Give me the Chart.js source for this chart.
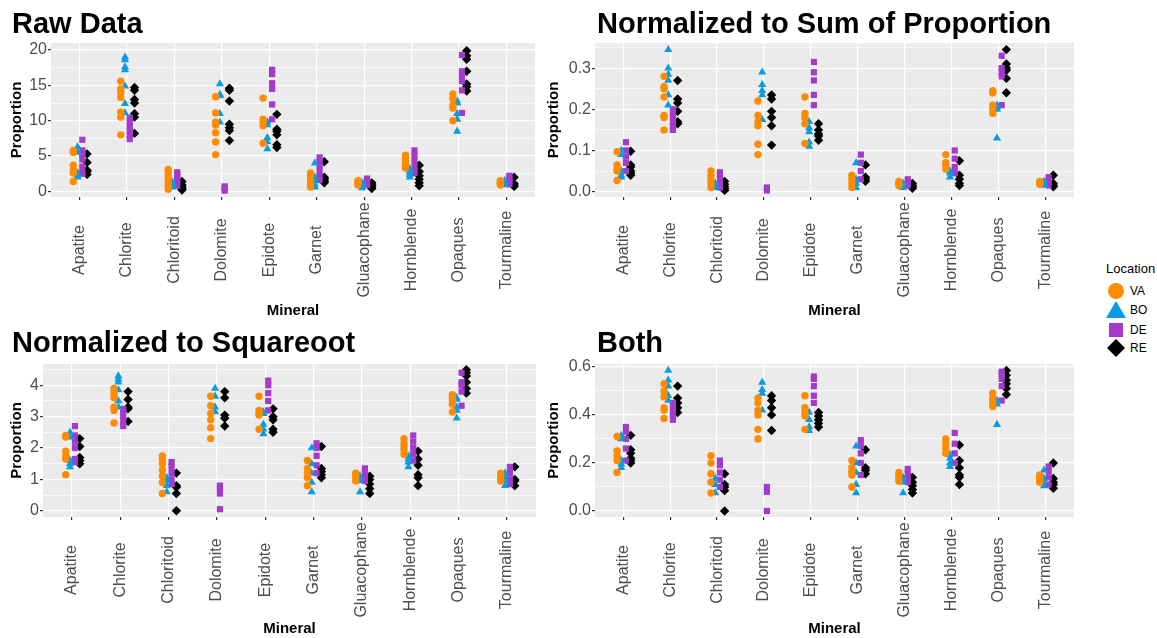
<!DOCTYPE html>
<html>
<head>
<meta charset="utf-8">
<script src="https://cdn.jsdelivr.net/npm/chart.js@4.4.0/dist/chart.umd.min.js"></script>
<style>
  body { margin: 0; background: #fff; font-family: "Liberation Sans", Arial, sans-serif; }
  #page { position: relative; width: 1157px; height: 638px; overflow: hidden; }
  .panel { position: absolute; }
  .lg { position: absolute; font-size: 12px; color: #000; line-height: 14px; }
</style>
</head>
<body>
<div id="page">
  <canvas class="panel" id="c1" width="560" height="320" style="left:0;top:0"></canvas>
  <canvas class="panel" id="c2" width="545" height="320" style="left:540px;top:0"></canvas>
  <canvas class="panel" id="c3" width="560" height="318" style="left:0;top:320px"></canvas>
  <canvas class="panel" id="c4" width="545" height="318" style="left:540px;top:320px"></canvas>

  <div class="lg" style="left:1106px;top:262px;font-size:13px">Location</div>
  <svg style="position:absolute;left:1104px;top:280px" width="26" height="80">
    <circle cx="12" cy="11" r="8" fill="#FF8C00"/>
    <polygon points="12,21 22,38 2,38" fill="#0A9BE3"/>
    <rect x="5" y="43" width="14" height="14" fill="#A23BCB"/>
    <polygon points="12,59 21,68 12,77 3,68" fill="#000"/>
  </svg>
  <div class="lg" style="left:1130px;top:284px">VA</div>
  <div class="lg" style="left:1130px;top:303px">BO</div>
  <div class="lg" style="left:1130px;top:323px">DE</div>
  <div class="lg" style="left:1130px;top:341px">RE</div>
</div>
<script>
const minerals = ['Apatite', 'Chlorite', 'Chloritoid', 'Dolomite', 'Epidote', 'Garnet', 'Gluacophane', 'Hornblende', 'Opaques', 'Tourmaline'];
const locations = ['VA', 'BO', 'DE', 'RE'];

// Raw Data
const rawVA = [[1.4, 2.6, 3.0, 3.7, 5.5, 5.8], [8.0, 10.5, 11.2, 13.3, 14.0, 14.5, 15.6], [0.3, 0.8, 1.3, 1.8, 2.3, 2.8, 3.1], [5.2, 7.0, 8.3, 9.4, 9.8, 11.1, 13.4], [6.8, 9.3, 9.8, 10.2, 13.2], [0.6, 1.0, 1.4, 1.8, 2.2, 2.6], [0.9, 1.1, 1.3, 1.5], [3.3, 3.7, 4.0, 4.3, 4.7, 5.1], [10.0, 11.8, 12.2, 13.1, 13.8], [0.9, 1.1, 1.3, 1.5]];
const rawBO = [[2.0, 2.3, 2.6, 5.5, 6.3], [11.1, 12.4, 14.9, 17.2, 17.6, 18.6, 19.0], [0.6, 0.8, 1.0, 1.3], [9.8, 11.0, 13.5, 13.7, 15.2], [6.0, 7.0, 7.6, 9.4, 9.8], [0.6, 1.0, 1.5, 2.0, 4.0], [0.5, 0.9, 1.2], [2.0, 2.4, 2.8, 3.2], [8.5, 10.2, 11.0, 12.5, 12.8], [0.9, 1.2, 1.5]];
const rawDE = [[2.5, 2.7, 3.5, 4.5, 5.2, 5.8, 7.3], [7.4, 8.0, 8.6, 9.2, 9.8, 10.4], [0.8, 1.3, 1.8, 2.3, 2.7], [0.1, 0.4, 0.7], [10.2, 12.3, 14.5, 15.3, 16.6, 17.2], [1.6, 2.2, 3.0, 3.6, 4.2, 4.8], [0.9, 1.2, 1.5, 1.8], [2.6, 3.4, 4.2, 5.0, 5.8], [11.1, 14.3, 15.6, 16.4, 17.0, 19.3], [1.0, 1.4, 1.8, 2.2]];
const rawRE = [[2.4, 2.8, 3.0, 4.1, 5.3], [8.2, 10.5, 11.0, 12.5, 13.0, 14.3, 14.7], [0.2, 0.4, 0.6, 0.9, 1.4], [7.2, 8.6, 9.0, 9.5, 12.8, 14.3, 14.6], [6.2, 6.6, 8.0, 8.5, 8.8, 10.9], [1.2, 1.4, 1.6, 1.8, 2.0, 4.2], [0.4, 0.6, 0.8, 1.0, 1.2], [0.8, 1.2, 1.7, 2.2, 2.8, 3.7], [14.2, 14.8, 15.2, 17.0, 18.7, 19.2, 19.9], [0.7, 0.9, 1.1, 2.0]];

// Normalized to Sum of Proportion
const sumVA = [[0.027, 0.05, 0.055, 0.065, 0.097], [0.15, 0.18, 0.185, 0.23, 0.25, 0.255, 0.28], [0.01, 0.02, 0.03, 0.04, 0.05], [0.09, 0.115, 0.16, 0.17, 0.185, 0.22], [0.117, 0.165, 0.18, 0.19, 0.23], [0.01, 0.02, 0.03, 0.04], [0.015, 0.02, 0.025], [0.055, 0.065, 0.07, 0.09], [0.19, 0.2, 0.21, 0.24, 0.245], [0.018, 0.02, 0.025]];
const sumBO = [[0.035, 0.04, 0.05, 0.09, 0.1], [0.21, 0.235, 0.27, 0.285, 0.3, 0.345], [0.01, 0.015, 0.02], [0.175, 0.235, 0.245, 0.26, 0.29], [0.11, 0.12, 0.145, 0.155, 0.17], [0.01, 0.02, 0.03, 0.07], [0.01, 0.02], [0.035, 0.045, 0.05], [0.13, 0.2, 0.205, 0.21], [0.015, 0.02, 0.025]];
const sumDE = [[0.05, 0.07, 0.085, 0.1, 0.12], [0.15, 0.16, 0.17, 0.18, 0.19, 0.2], [0.01, 0.02, 0.03, 0.04, 0.047], [0.003, 0.01], [0.21, 0.235, 0.27, 0.29, 0.315], [0.03, 0.05, 0.07, 0.09], [0.015, 0.02, 0.03], [0.045, 0.06, 0.08, 0.1], [0.21, 0.28, 0.29, 0.3, 0.33], [0.015, 0.025, 0.035]];
const sumRE = [[0.04, 0.045, 0.05, 0.06, 0.065, 0.098], [0.165, 0.17, 0.195, 0.215, 0.225, 0.27], [0.003, 0.007, 0.012, 0.018, 0.025], [0.113, 0.16, 0.18, 0.195, 0.225, 0.235], [0.125, 0.135, 0.14, 0.15, 0.165], [0.025, 0.03, 0.035, 0.065], [0.008, 0.012, 0.015, 0.02], [0.015, 0.02, 0.03, 0.04, 0.075], [0.24, 0.275, 0.295, 0.3, 0.31, 0.345], [0.012, 0.015, 0.02, 0.04]];

// Normalized to Squareoot
const sqrtVA = [[1.15, 1.65, 1.75, 1.9, 2.35, 2.4], [2.8, 3.2, 3.3, 3.6, 3.7, 3.8, 3.9], [0.55, 0.9, 1.1, 1.3, 1.5, 1.65, 1.75], [2.3, 2.65, 2.9, 3.1, 3.35, 3.65], [2.6, 3.05, 3.1, 3.2, 3.65], [0.8, 1.05, 1.2, 1.35, 1.6], [0.95, 1.05, 1.15, 1.2], [1.8, 1.95, 2.05, 2.15, 2.3], [3.15, 3.4, 3.5, 3.6, 3.7], [0.95, 1.05, 1.15, 1.2]];
const sqrtBO = [[1.4, 1.5, 1.6, 2.35, 2.5], [3.3, 3.5, 3.85, 4.1, 4.2, 4.3], [0.6, 0.8, 0.95, 1.05], [3.15, 3.3, 3.65, 3.9], [2.45, 2.6, 2.75, 3.1, 3.15], [0.6, 0.9, 1.2, 1.5, 2.0], [0.6, 0.95, 1.1], [1.4, 1.55, 1.65, 1.75], [2.95, 3.2, 3.3, 3.55, 3.6], [0.8, 0.95, 1.05, 1.2]];
const sqrtDE = [[1.55, 1.65, 2.0, 2.2, 2.4, 2.7], [2.7, 2.85, 3.0, 3.15, 3.25], [0.85, 1.0, 1.2, 1.4, 1.55], [0.05, 0.55, 0.7, 0.8], [3.2, 3.5, 3.75, 4.0, 4.15], [1.2, 1.45, 1.75, 2.0, 2.15], [0.95, 1.1, 1.25, 1.35], [1.6, 1.8, 2.0, 2.2, 2.4], [3.35, 3.8, 4.0, 4.1, 4.4], [0.85, 1.0, 1.2, 1.4]];
const sqrtRE = [[1.5, 1.6, 1.7, 2.05, 2.3], [2.85, 3.25, 3.3, 3.55, 3.8], [0.0, 0.55, 0.75, 0.8, 1.2], [2.7, 2.95, 3.05, 3.6, 3.8], [2.5, 2.6, 2.9, 3.0, 3.25], [1.05, 1.15, 1.25, 1.35, 2.05], [0.55, 0.7, 0.85, 1.0, 1.1], [0.8, 1.05, 1.15, 1.45, 1.65, 1.9], [3.75, 3.9, 4.1, 4.3, 4.4, 4.5], [0.8, 0.95, 1.0, 1.4]];

// Both
const bothVA = [[0.16, 0.21, 0.23, 0.25, 0.31], [0.385, 0.42, 0.43, 0.475, 0.5, 0.53], [0.075, 0.12, 0.155, 0.2, 0.23], [0.3, 0.34, 0.4, 0.42, 0.45, 0.47], [0.34, 0.395, 0.41, 0.43, 0.48], [0.1, 0.15, 0.165, 0.18, 0.21], [0.125, 0.135, 0.15, 0.16], [0.24, 0.26, 0.28, 0.3], [0.435, 0.445, 0.46, 0.47, 0.49], [0.12, 0.13, 0.14, 0.15]];
const bothBO = [[0.18, 0.195, 0.21, 0.3, 0.315], [0.46, 0.48, 0.52, 0.545, 0.585], [0.075, 0.11, 0.135], [0.42, 0.49, 0.505, 0.535], [0.335, 0.35, 0.38, 0.41], [0.075, 0.11, 0.16, 0.2, 0.27], [0.075, 0.12, 0.14], [0.185, 0.2, 0.22, 0.235], [0.36, 0.445, 0.46], [0.105, 0.12, 0.135, 0.17]];
const bothDE = [[0.21, 0.26, 0.3, 0.33, 0.35], [0.38, 0.4, 0.42, 0.44, 0.45], [0.1, 0.13, 0.16, 0.19, 0.21], [0.0, 0.08, 0.1], [0.45, 0.48, 0.52, 0.55, 0.56], [0.15, 0.2, 0.24, 0.27, 0.295], [0.12, 0.14, 0.16, 0.175], [0.2, 0.24, 0.28, 0.325], [0.46, 0.52, 0.55, 0.57, 0.58], [0.11, 0.14, 0.165, 0.185]];
const bothRE = [[0.2, 0.21, 0.22, 0.24, 0.255, 0.315], [0.41, 0.43, 0.45, 0.47, 0.52], [0.0, 0.085, 0.1, 0.11, 0.155], [0.335, 0.4, 0.43, 0.46, 0.48], [0.35, 0.365, 0.38, 0.395, 0.41], [0.155, 0.17, 0.18, 0.255], [0.075, 0.09, 0.105, 0.12, 0.14], [0.11, 0.14, 0.15, 0.18, 0.21, 0.275], [0.485, 0.51, 0.53, 0.545, 0.565, 0.585], [0.095, 0.11, 0.12, 0.135, 0.2]];

// tick labels
const rawTicks = [0, 5, 10, 15, 20];
const rawTickLabels = ['0', '5', '10', '15', '20'];
const sumTicks = [0, 0.1, 0.2, 0.3];
const sumTickLabels = ['0.0', '0.1', '0.2', '0.3'];
const sqrtTicks = [0, 1, 2, 3, 4];
const sqrtTickLabels = ['0', '1', '2', '3', '4'];
const bothTicks = [0, 0.2, 0.4, 0.6];
const bothTickLabels = ['0.0', '0.2', '0.4', '0.6'];

const FONT = '"Liberation Sans", Arial, sans-serif';
const colors = ['#FF8C00', '#0A9BE3', '#A23BCB', '#000000'];
const shapes = ['circle', 'triangle', 'rect', 'rectRot'];
const radii = [3.7, 4.7, 4.4, 4.7];
const dodge = [-0.13, -0.04, 0.06, 0.16];

const panelBg = {
    id: 'panelBg',
    beforeDraw(chart) {
        const { ctx, chartArea: a } = chart;
        ctx.save();
        ctx.fillStyle = '#EBEBEB';
        ctx.fillRect(a.left, a.top, a.right - a.left, a.bottom - a.top);
        ctx.restore();
    }
};

// panel title + x labels rotated 90 and centred (ggplot style)
const panelText = {
    id: 'panelText',
    afterDraw(chart, args, opts) {
        const ctx = chart.ctx;
        ctx.save();
        ctx.font = 'bold 29px ' + FONT;
        ctx.fillStyle = '#000';
        ctx.textAlign = 'left';
        ctx.textBaseline = 'alphabetic';
        ctx.fillText(opts.text, opts.x, opts.y);

        const xs = chart.scales.x;
        const cy = chart.chartArea.bottom + 53;
        ctx.font = '16px ' + FONT;
        ctx.fillStyle = '#4D4D4D';
        ctx.textAlign = 'center';
        ctx.textBaseline = 'middle';
        minerals.forEach((m, i) => {
            ctx.save();
            ctx.translate(xs.getPixelForValue(i), cy);
            ctx.rotate(-Math.PI / 2);
            ctx.fillText(m, 0, 0);
            ctx.restore();
        });
        ctx.restore();
    }
};

function makePanel(id, title, series, ticks, tickLabels, yMin, yMax, box) {
    const step = ticks[1] - ticks[0];
    const minors = [];
    for (let i = -1; i < ticks.length; i++) {
        const m = ticks[0] + step * (i + 0.5);
        if (m > yMin && m < yMax) minors.push(m);
    }
    const isMajor = v => ticks.some(t => Math.abs(t - v) < 1e-9);

    const datasets = series.map((arr, k) => ({
        label: locations[k],
        data: arr.flatMap((vals, i) => vals.map(v => ({ x: i + dodge[k], y: v }))),
        pointStyle: shapes[k],
        backgroundColor: colors[k],
        borderWidth: 0,
        pointRadius: radii[k],
        pointHoverRadius: radii[k]
    }));

    return new Chart(document.getElementById(id), {
        type: 'scatter',
        data: { datasets },
        options: {
            responsive: false,
            animation: false,
            layout: { padding: { top: box.padTop, right: box.padRight, left: 0, bottom: 0 } },
            plugins: {
                legend: { display: false },
                tooltip: { enabled: false },
                panelText: { text: title, x: box.titleX, y: box.titleY }
            },
            scales: {
                x: {
                    type: 'linear',
                    min: -0.6,
                    max: 9.6,
                    afterBuildTicks: axis => { axis.ticks = minerals.map((m, i) => ({ value: i })); },
                    afterFit: s => { s.height = box.xh; },
                    ticks: { display: false },
                    grid: { color: '#FFFFFF', lineWidth: 1.2, tickColor: '#333333', tickLength: 3 },
                    border: { display: false },
                    title: {
                        display: true,
                        text: 'Mineral',
                        color: '#000',
                        font: { family: FONT, size: 15, weight: 'bold' },
                        padding: { top: 0, bottom: box.xTitlePad }
                    }
                },
                y: {
                    type: 'linear',
                    min: yMin,
                    max: yMax,
                    afterBuildTicks: axis => {
                        axis.ticks = ticks.concat(minors).sort((a, b) => a - b).map(v => ({ value: v }));
                    },
                    afterFit: s => { s.width = box.yw; },
                    ticks: {
                        callback: v => {
                            const i = ticks.findIndex(t => Math.abs(t - v) < 1e-9);
                            return i >= 0 ? tickLabels[i] : '';
                        },
                        autoSkip: false,
                        padding: 1,
                        color: '#4D4D4D',
                        font: { family: FONT, size: 16 }
                    },
                    grid: {
                        color: '#FFFFFF',
                        lineWidth: c => (c.tick && isMajor(c.tick.value)) ? 1.2 : 0.6,
                        tickColor: c => (c.tick && isMajor(c.tick.value)) ? '#333333' : 'rgba(0,0,0,0)',
                        tickLength: 3
                    },
                    border: { display: false },
                    title: {
                        display: true,
                        text: 'Proportion',
                        color: '#000',
                        font: { family: FONT, size: 15, weight: 'bold' },
                        padding: { top: box.yTitlePad, bottom: 0 }
                    }
                }
            }
        },
        plugins: [panelBg, panelText]
    });
}

makePanel('c1', 'Raw Data', [rawVA, rawBO, rawDE, rawRE], rawTicks, rawTickLabels, -0.8, 21.0,
    { padTop: 43, padRight: 25, xh: 123, yw: 51, titleX: 12, titleY: 33, xTitlePad: 0, yTitlePad: 8 });
makePanel('c2', 'Normalized to Sum of Proportion', [sumVA, sumBO, sumDE, sumRE], sumTicks, sumTickLabels, -0.013, 0.361,
    { padTop: 43, padRight: 11, xh: 123, yw: 55, titleX: 57, titleY: 33, xTitlePad: 0, yTitlePad: 5 });
makePanel('c3', 'Normalized to Squareoot', [sqrtVA, sqrtBO, sqrtDE, sqrtRE], sqrtTicks, sqrtTickLabels, -0.2, 4.68,
    { padTop: 44, padRight: 24, xh: 121, yw: 43, titleX: 12, titleY: 32, xTitlePad: 0, yTitlePad: 8 });
makePanel('c4', 'Both', [bothVA, bothBO, bothDE, bothRE], bothTicks, bothTickLabels, -0.025, 0.612,
    { padTop: 44, padRight: 11, xh: 121, yw: 55, titleX: 57, titleY: 32, xTitlePad: 0, yTitlePad: 5 });
</script>
</body>
</html>
